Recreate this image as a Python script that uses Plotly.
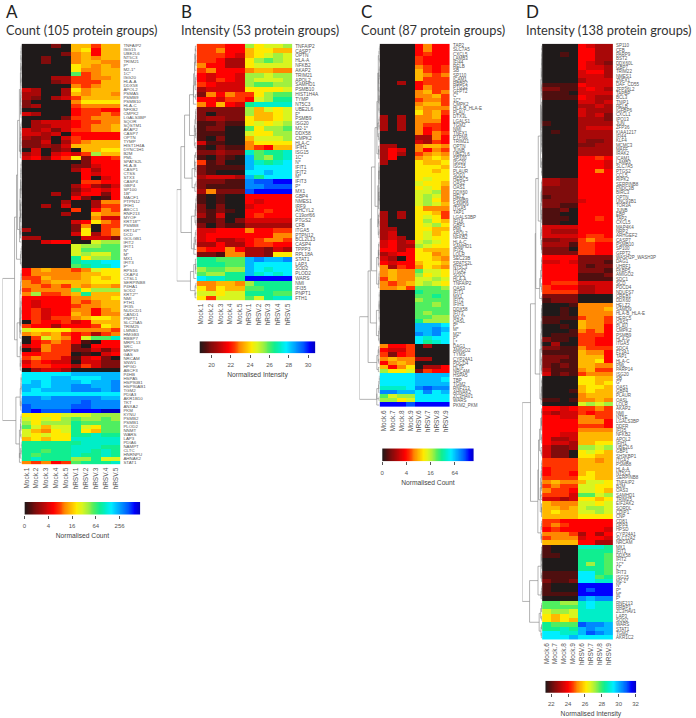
import numpy as np
import plotly.graph_objects as go

W, H = 696, 718

# colour ramp shared by all four heatmaps, cell values below are read as steps on it
RAMP = ["#1f1a1a", "#4f0f0f", "#800c0c", "#a80808", "#d40505", "#ff0000", "#ff3400",
        "#ff8800", "#ffb800", "#ffea00", "#d8f520", "#a0f040", "#50ee60", "#10ee90",
        "#00eec8", "#00eeff", "#00b8ff", "#0088ff", "#0055ff", "#0000ff", "#0000c0"]

COLS_AB = ["Mock.1", "Mock.2", "Mock.3", "Mock.4", "Mock.5", "hRSV.1", "hRSV.2", "hRSV.3", "hRSV.4", "hRSV.5"]
COLS_CD = ["Mock.6", "Mock.7", "Mock.8", "Mock.9", "hRSV.6", "hRSV.7", "hRSV.8", "hRSV.9"]

A_LABELS = ["TNFAIP2", "ISG15", "UBE2L6", "NT5C3", "TRIM21", "P*", "M2-1*", "1C*", "ISG20", "HLA-A", "DDX58", "APOL2",
            "PSMA5", "PSMB9", "PSMB10", "HLA-C", "NFKB2", "CMPK2", "LGALS3BP", "SQOR", "SQSTM1", "AKAP2", "CASP7",
            "OPTN", "TYMP", "HIST1H4A", "DYNC1H1", "B2M", "PML", "SPATS2L", "HLA-B", "CASP1", "CTSS", "STX3", "CASP4",
            "GBP4", "SP100", "1B*", "MACF1", "PTPN12", "IFIH1", "ABCC1", "RNF213", "MYOF", "KRT18**", "PSMB8",
            "KRT14**", "DCD", "GOLGB1", "IFIT2", "IFIT1", "N*", "M*", "MX1", "IFIT3", "F*", "RPS16", "CKAP4", "CTSL1",
            "SERPINB8", "P4HA1", "SOD2", "KRT2**", "NMI", "FTH1", "IFI35", "NUDCD1", "CAND1", "PNPT1", "SLC25A5",
            "TRIM25", "LMNB1", "HMGB3", "RBBP7", "MRPL13", "SRC", "MRPS9", "GAS", "NRCAM", "SNW1", "HPGD", "ABCF3",
            "P4HB", "HSPA5", "HSP90B1", "HSP90AB1", "TGM2", "PDIA3", "AKR1B10", "TKT", "ANXA2", "PKM", "KYNU", "PSMB2",
            "PSMB1", "PLOD2", "NNMT", "WARS", "LAP3", "PDIA6", "NAMPT", "CLTC", "HNRNPU", "AHNAK2", "STAT1"]
A_ROWS = ["0002088688", "0000089588", "0000278588", "0020078788", "0020078877", "0000098787", "0000097788",
          "00000c6788", "0003366778", "0002366688", "0000076788", "4300397888", "3300387887", "3203468888",
          "2000079999", "2300067777", "0000056655", "4300056676", "0000266777", "0344456677", "0334456778",
          "4342466778", "4434055555", "3230465555", "2240367888", "2232488888", "0402308899", "3404546b88",
          "4525692556", "0000002555", "0000022455", "0000035355", "0000005455", "0000005045", "0000006655",
          "0000035324", "0000024545", "0003035525", "0000052015", "0000300377", "0030400366", "0000060576",
          "0000300877", "0000000744", "0000045976", "0000027066", "3000029067", "0000049367", "3300004442",
          "0045500abb", "00000abbcc", "00000acccc", "00000abaac", "00000d9bbc", "00000deeff", "00000cdeef",
          "5787767a99", "5777778899", "6687778989", "7678888999", "7767687887", "67777c9bbb", "7b6678d888",
          "5555577889", "5455576788", "5455567788", "5645577578", "5645587577", "5646678998", "0655645888",
          "6553555698", "a999977776", "7878656367", "06a875acce", "0567651055", "4576620555", "0376622424",
          "5566601045", "6766414520", "4654404422", "5665536422", "0344300000", "fffffggggg", "fffggfffgg",
          "fgfgggfggh", "ggfgghhggh", "gfggghhhgh", "ffffffffff", "hhghhhhhgg", "hhhhhhihhh", "ihhhhiihhh",
          "ijiiijjjkk", "9999aaabbb", "a9a9bcbbcb", "b9bbbdcccc", "ca8aada9cc", "a879ad98cc", "a9a99ddedd",
          "89899eeeee", "ddddddeeee", "dddddeeedd", "ddcddeeded", "dcdddedded", "dedddbbdaa", "76756cddde"]

B_LABELS = ["TNFAIP2", "CASP7", "OPTN", "HLA-A", "NFKB2", "AKAP2", "TRIM21", "APOL2", "SAMHD1", "PSMB10", "HIST1H4A",
            "TYMP", "NT5C3", "UBE2L6", "F*", "PSMB9", "ISG20", "M2-1*", "DDX58", "CMPK2", "HLA-C", "IFIH1", "ISG15",
            "1C*", "N*", "IFIT1", "IFIT2", "M*", "IFIT3", "P*", "MX1", "GBP4", "NMES1", "IRF9", "AHCYL2", "C19orf66",
            "PTGS2", "CFB", "ITGA5", "PTPN12", "BCL2L13", "CASP4", "TPPP3", "RPL18A", "STAT1", "LAP3", "SOD2", "PLOD2",
            "WARS", "NMI", "IFI35", "PNPT1", "FTH1"]
B_ROWS = ["66655b9aab", "6675589988", "6665489aba", "665339bcba", "755339aaaa", "6755578877", "54554bbabb",
          "54654baaab", "65444bccbb", "344449999a", "2757669bcc", "554665abdd", "75854deeee", "22222b8a9a",
          "20222b889a", "233229889a", "112119a9ab", "12200c9bbc", "11100a99bb", "102008aaab", "4110079999",
          "1021176588", "22322ecdde", "10210gcbde", "61200gedef", "21111gffff", "21000ffgff", "34443gdfff",
          "22211hiijj", "21111hhiii", "37222ijjjj", "1010055555", "1010054555", "2020045555", "2121055655",
          "3140056555", "1120244444", "2021133333", "4455575566", "4555555577", "4533456776", "3353356655",
          "6557533243", "2217733299", "ddcccghggh", "dddccgffff", "bccbbgfeff", "cbbddgefef", "feeddjjjjj",
          "77887bdddd", "97988ccddd", "aa9aadddcc", "96aaacadee"]

C_LABELS = ["TAP2", "SLC7A5", "CXCL5", "LAMB3", "IFI44", "RELB", "SB", "SP110", "ICAM1", "RBBP2", "PTGS2", "GFPT2", "C*",
            "1C*", "CMPK2", "HLA-B_HLA-E", "PLAU", "DTX3L", "LGALS1", "TGM2", "NMI", "TNFX1", "PTPN6", "TRIM21", "OPTN",
            "JUNB", "UBE2L6", "SP100", "ISG20", "ISG15", "PLAUR", "SOD1", "HERC5", "OAS2", "OAS1", "DDX60", "HELZ",
            "PSMB9", "SAMD9", "ITGA5", "TAP1", "LGALS3BP", "IFI16", "GBP1", "PML", "APOL2", "NFKB2", "HLA-C", "SAMHD1",
            "IFI35", "LOLR", "SEC23B", "SPATS2L", "NT5C3", "ITGA2", "SOD2", "HLA-A", "TNFAIP2", "OAS3", "IFIT1", "MX1",
            "IFIT2", "IFIH1", "DDX58", "IFIT3", "M2-1*", "OASL", "P*", "M*", "M2*", "F*", "L*", "DAG1", "AMIGO2", "TYMS",
            "CYP24A1", "PDCD4", "HLTF", "NRCAM", "HSPA5", "TBP", "TGM2", "RNF213", "AHNAK2", "ZC3HAV1", "WARS", "PKM2_PKM"]
C_ROWS = ["00005755", "00005755", "00005655", "00006555", "00006555", "00007656", "00008656", "00008767", "00008666",
          "00305666", "00005766", "00007867", "00007786", "00006776", "00007886", "00008777", "00009786", "30307785",
          "30307775", "30307665", "30307565", "00007576", "00003375", "00004365", "33007887", "35407576", "35306787",
          "35007898", "30009889", "00009998", "00009989", "00009999", "00009a99", "0000a998", "00009a97", "0000aab7",
          "0000aba7", "0000ab97", "0000aba8", "00009777", "30309986", "30309a96", "30009b98", "30009ab9", "33009988",
          "34009a89", "34309a99", "4534aba9", "4533ba99", "55359888", "34559978", "43059987", "54558998", "73657987",
          "7877caa9", "7877b9a9", "6877aaba", "7678aba9", "7786cccb", "0000dccc", "0000ccdc", "0000bccc", "0000ccbc",
          "0000cccc", "0000cbcc", "0000ccbb", "0000dbbb", "0000gggf", "0000gghg", "0000hghf",
          "0000feff", "0000fdef", "75560300", "54460000", "62560000", "78773300", "57870000", "85790335", "b99a2655",
          "ffffgggg", "ffffgggf", "ffffgggg", "eeefhihh", "hhggfhfg", "cabbffff", "bb9affff", "jjjijjjj"]

D_LABELS = ["SP110", "CFB", "PARP9", "BST2", "DDX60L", "GBP7", "TRIM22", "NMES1", "ZNFX1", "DAF_CD55", "ZFP36L2", "TAPBP",
            "BCL3", "TNIP1", "RELB", "IGFBP6", "CXCL1", "IPO13", "JUN", "ZFP36", "KIAA1217", "IFI44", "KLF4", "MCMC3",
            "MAFF", "IRAK2", "ICAM1", "LAMB3", "SLC7A5", "PTGS2", "CCL5", "RIPK2", "SERPINB8", "FNDC3B", "BIRC3", "OPTN",
            "UNC93B1", "TOR3A", "JUNB", "EBP", "TAP2", "CXCL5", "MAP4K4", "NRP2", "ARHGEF2", "CASP7", "PSMB10", "SP100",
            "GFPT2", "WASH2P_WASH3P", "DAG1", "UHRF1", "FKBP5", "AMIGO2", "SDC1", "SCD", "PDCD4", "NDUFS7", "CREB1",
            "DDX60", "HELZ2", "SAMD9", "HLA-B_HLA-E", "HERC5", "OAS2", "PLAU", "CMPK2", "PSMB9", "HLA-G", "ITGA5", "SDC4",
            "F13A1", "TAP1", "HLA-C", "PML", "PARP14", "ISG20", "SB", "G*", "OAS1", "GBP4", "PLAUR", "OASL", "LOLR",
            "AKAP2", "NMI", "NT5E", "LGALS3BP", "DDFR", "IFI35", "NFKB2", "APOL2", "IFIH1", "UBE2L6", "GBP1", "SH3KBP1",
            "ITGA2", "PSMB8", "HLA-A", "NT5C3", "SERPINB8", "TNFAIP2", "B2M", "OAS3", "SAMHD1", "TRIM25", "EIF2AK2",
            "SQRDL", "CDIP1", "CNP", "CD81", "DPP4", "HPSD", "CYP24A1", "SLC12A2", "NRCAM", "MX1", "IFIT1", "DDX58",
            "IFIT2", "1C*", "L*", "IFIT3", "ISG15", "M2-1*", "N*", "P*", "M*", "F*", "RNF213", "RRBP1", "ZC3HAV1", "LAP3",
            "SOD2", "WARS", "STAT1", "TGM2", "AKR1C2"]
D_ROWS = ["00005433", "00005533", "00105533", "00005533", "00005432", "00005443", "00004553", "00004443", "00003444",
          "11115444", "22114543", "11104444", "11115433", "00004434", "00003343", "00004333", "00004342", "00003332",
          "10003333", "00003444", "01003333", "00003333", "00003223", "00002233", "00003333", "00003333", "00005565",
          "00005554", "00005554", "00005575", "00005555", "33225555", "33225555", "22225555", "22225555", "12225555",
          "22224555", "22115555", "11205555", "11005555", "11105565", "11005555", "44445555", "43335555", "44445665",
          "22336766", "33316655", "22206655", "22226655", "55552222", "44542221", "55552122", "55552221", "55551112",
          "55551111", "56664444", "65553344", "66663344", "22220000", "12220000", "00017777", "00107778", "00107777",
          "11116776", "11008776", "00108775", "00017675", "01116665", "21106655", "03006655", "22117666", "11118775",
          "22218885", "22118895", "21218877", "31117866", "41216777", "00009988", "00009989", "00008998", "00018988",
          "00007888", "11017787", "0000abab", "55456676", "43446566", "55447766", "55557775", "55556665", "55557777",
          "55448888", "53348888", "54438899", "4223bbab", "42209a98", "42209988", "66668878", "66668888", "56668888",
          "56658988", "66669988", "78778aa9", "6766aa99", "7665aa98", "6664ccab", "44349989", "8777aa9a",
          "8878abba", "8988aaba", "88889999", "66555555", "67655555", "56555554", "77763535", "67774554", "88885533",
          "1000eeed", "1000dddd", "1100dddc", "0000dddc", "0000dbdc", "0000dddc", "1111ffdc", "1111ffcd", "2112ffee",
          "1000jjjj", "1000jijj", "1111jjjj", "0000hghh", "ccbbefee", "ccccefee", "abbaeeee", "989aeeee", "9898eeee",
          "dcccihhg", "ddedghgg", "ffeegihg", "fffgffff"]

# colour bar ranges and tick marks of each panel
A_BAR = dict(vmin=0, vmax=4.87, ticks=[0, 1, 2, 3, 4], text=["0", "4", "16", "64", "256"])
B_BAR = dict(vmin=18.76, vmax=30.76, ticks=[20, 22, 24, 26, 28, 30], text=["20", "22", "24", "26", "28", "30"])
C_BAR = dict(vmin=0, vmax=3.78, ticks=[0, 1, 2, 3], text=["0", "4", "16", "64"])
D_BAR = dict(vmin=21.3, vmax=32.1, ticks=[22, 24, 26, 28, 30, 32], text=["22", "24", "26", "28", "30", "32"])

colorscale = [[i / (len(RAMP) - 1), c] for i, c in enumerate(RAMP)]
GREY = "#555555"

fig = go.Figure()
n_axes = 0


def add_axes(box, xkw, ykw):
    # box is left, top, right, bottom in pixels of the page
    global n_axes
    n_axes += 1
    s = "" if n_axes == 1 else str(n_axes)
    x0, y0, x1, y1 = box
    base = dict(showgrid=False, zeroline=False, showline=False, ticks="")
    fig.update_layout({
        f"xaxis{s}": {**base, "domain": [x0 / W, x1 / W], "anchor": f"y{s}", **xkw},
        f"yaxis{s}": {**base, "domain": [1 - y1 / H, 1 - y0 / H], "anchor": f"x{s}", **ykw},
    })
    return f"x{s}", f"y{s}"


def merge_rows(levels):
    # neighbour-only ward clustering of the rows, gives the tree drawn left of each heatmap
    nodes = [dict(mean=r.astype(float), n=1, y=float(i), h=0.0) for i, r in enumerate(levels)]
    xs, ys = [], []
    while len(nodes) > 1:
        best, best_d = 0, None
        for i in range(len(nodes) - 1):
            a, b = nodes[i], nodes[i + 1]
            d = np.sqrt(2 * a["n"] * b["n"] / (a["n"] + b["n"])) * np.linalg.norm(a["mean"] - b["mean"])
            if best_d is None or d < best_d:
                best, best_d = i, d
        a, b = nodes[best], nodes[best + 1]
        h = max(best_d, a["h"], b["h"])
        xs += [a["h"], h, h, b["h"], None]
        ys += [a["y"], a["y"], b["y"], b["y"], None]
        n = a["n"] + b["n"]
        nodes[best:best + 2] = [dict(mean=(a["mean"] * a["n"] + b["mean"] * b["n"]) / n, n=n,
                                     y=(a["y"] + b["y"]) / 2, h=h)]
    return xs, ys, nodes[0]["h"]


def add_panel(letter, title, cols, labels, rows, bar, bar_name, tree_left, heat, bar_box, px, label_size):
    levels = np.array([[int(c, 36) for c in r] for r in rows])
    z = bar["vmin"] + levels / (len(RAMP) - 1) * (bar["vmax"] - bar["vmin"])
    n = len(labels)
    font = dict(family="Liberation Sans", size=6.5, color=GREY)

    xa, ya = add_axes(heat,
                      dict(range=[-0.5, len(cols) - 0.5], tickmode="array", tickvals=list(range(len(cols))),
                           ticktext=cols, tickangle=-90, tickfont=font, side="bottom", ticklabelstandoff=1),
                      dict(range=[n - 0.5, -0.5], tickmode="array", tickvals=list(range(n)), ticktext=labels,
                           side="right", tickfont=dict(family="Liberation Sans", size=label_size, color=GREY),
                           ticklabelstandoff=2))
    fig.add_trace(go.Heatmap(z=z, x=list(range(len(cols))), y=list(range(n)), xaxis=xa, yaxis=ya, colorscale=colorscale,
                             zmin=bar["vmin"], zmax=bar["vmax"], showscale=False))

    xs, ys, top = merge_rows(levels)
    xa, ya = add_axes((tree_left, heat[1], heat[0], heat[3]),
                      dict(range=[top, 0], showticklabels=False),
                      dict(range=[n - 0.5, -0.5], showticklabels=False))
    fig.add_trace(go.Scatter(x=xs, y=ys, mode="lines", xaxis=xa, yaxis=ya, showlegend=False, hoverinfo="skip",
                             line=dict(color="#808080", width=0.6)))

    xa, ya = add_axes(bar_box,
                      dict(range=[bar["vmin"], bar["vmax"]], tickmode="array", tickvals=bar["ticks"],
                           ticktext=bar["text"], ticks="outside", ticklen=3, tickwidth=0.6, tickcolor=GREY,
                           tickfont=dict(family="Liberation Sans", size=6, color=GREY), ticklabelstandoff=2,
                           title=dict(text=bar_name, font=dict(family="Liberation Sans", size=6.7, color="#444444"),
                                      standoff=5)),
                      dict(range=[0, 1], showticklabels=False))
    ramp_x = np.linspace(bar["vmin"], bar["vmax"], 240)
    fig.add_trace(go.Heatmap(z=[ramp_x], x=ramp_x, y=[0.5], xaxis=xa, yaxis=ya, colorscale=colorscale,
                             zmin=bar["vmin"], zmax=bar["vmax"], showscale=False, hoverinfo="skip"))

    fig.add_annotation(text=letter, xref="paper", yref="paper", x=px / W, y=1 - 11.5 / H, showarrow=False,
                       xanchor="left", yanchor="middle", font=dict(family="Lato", size=17, color="#222222"))
    fig.add_annotation(text=title, xref="paper", yref="paper", x=px / W, y=1 - 30.5 / H, showarrow=False,
                       xanchor="left", yanchor="middle", font=dict(family="Lato", size=12.8, color="#333333"))


add_panel("A", "Count (105 protein groups)", COLS_AB, A_LABELS, A_ROWS, A_BAR, "Normalised Count",
          0.5, (19.7, 43.7, 119.3, 465), (22.7, 502.7, 139.3, 515.3), 2, 4.4)
add_panel("B", "Intensity (53 protein groups)", COLS_AB, B_LABELS, B_ROWS, B_BAR, "Normalised Intensity",
          176, (196, 43.7, 292.3, 300.7), (199, 341.7, 315.7, 354), 178, 4.8)
add_panel("C", "Count (87 protein groups)", COLS_CD, C_LABELS, C_ROWS, C_BAR, "Normalised Count",
          360, (380.3, 43.7, 451.3, 407.7), (383, 449, 475, 462), 360, 4.5)
add_panel("D", "Intensity (138 protein groups)", COLS_CD, D_LABELS, D_ROWS, D_BAR, "Normalised Intensity",
          524, (544, 43.7, 615.3, 640.7), (547.3, 681.7, 639, 694), 526, 4.5)

fig.update_layout(width=W, height=H, margin=dict(l=0, r=0, t=0, b=0), paper_bgcolor="white", plot_bgcolor="white",
                  showlegend=False)

fig.write_html("out.html", config=dict(displayModeBar=False), post_script="document.body.style.margin='0';")
